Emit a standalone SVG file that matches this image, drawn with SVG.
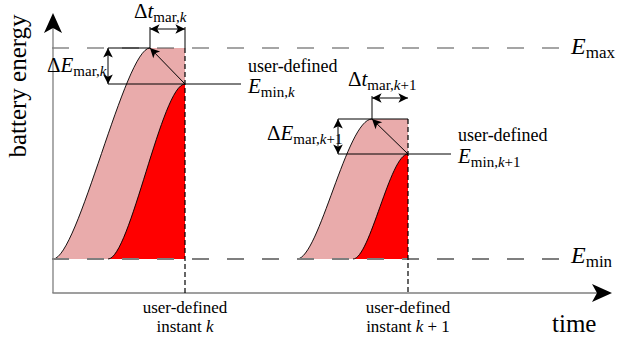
<svg xmlns="http://www.w3.org/2000/svg" width="626" height="341" viewBox="0 0 626 341">
  <style>
    text { font-family: "Liberation Serif", "Times New Roman", serif; fill: #000; }
    .lbl { font-size: 18px; }
    .low { font-size: 17px; }
    .big { font-size: 25px; }
    .m { font-size: 21px; }
    .e { font-size: 24px; }
    .it { font-style: italic; }
    .sub { font-size: 15px; }
    .esub { font-size: 17px; }
    .axis { stroke: #7f7f7f; stroke-width: 1.3; fill: none; }
    .head { fill: #000; stroke: none; }
    .emax { stroke: #4d4d4d; stroke-width: 1.1; stroke-dasharray: 17 18; fill: none; }
    .emin { stroke: #7f7f7f; stroke-width: 1.8; stroke-dasharray: 17 18; fill: none; }
    .pink { fill: #e9abab; stroke: none; }
    .red { fill: #ff0000; stroke: none; }
    .edge { stroke: #000; stroke-width: 0.9; fill: none; }
    .ln { stroke: #000; stroke-width: 1; fill: none; }
    .inst { stroke: #000; stroke-width: 1.2; stroke-dasharray: 5 3; fill: none; }
    .arr { stroke: #000; stroke-width: 1; fill: none; marker-end: url(#tip); }
    .dbl { stroke: #000; stroke-width: 1; fill: none; marker-start: url(#tip); marker-end: url(#tip); }
  </style>
  <defs>
    <marker id="tip" markerUnits="userSpaceOnUse" markerWidth="12" markerHeight="12" viewBox="-9 -5 10 10" refX="0" refY="0" orient="auto-start-reverse">
      <path d="M0,0 L-8,-4 L-6,0 L-8,4 z" fill="#000"/>
    </marker>
  </defs>

  <!-- pulse at instant k -->
  <g id="pulse-k">
    <path class="pink" d="M53,259 C78,259 125,48 150,48 L185,48 L185,259 Z"/>
    <path class="edge" d="M53,259 C78,259 125,48 150,48"/>
    <path class="red" d="M108,259 C130,259 162,84 185,84 L185,259 Z"/>
    <path class="edge" d="M108,259 C130,259 162,84 185,84"/>
  </g>

  <!-- pulse at instant k+1 -->
  <g id="pulse-k1">
    <path class="pink" d="M297,259 C319,259 347,119 372,119 L408,119 L408,259 Z"/>
    <path class="edge" d="M297,259 C319,259 347,119 372,119"/>
    <path class="red" d="M353,259 C370,259 390,154 408,154 L408,259 Z"/>
    <path class="edge" d="M353,259 C370,259 390,154 408,154"/>
  </g>

  <!-- energy bounds -->
  <g id="bounds">
    <line class="emax" x1="52" y1="48" x2="560" y2="48"/>
    <line class="emin" x1="52" y1="259" x2="560" y2="259"/>
    <text x="571" y="54" class="e"><tspan class="it">E</tspan><tspan class="esub" dy="4">max</tspan></text>
    <text x="571" y="263" class="e"><tspan class="it">E</tspan><tspan class="esub" dy="4">min</tspan></text>
  </g>

  <!-- axes -->
  <g id="axes">
    <line class="axis" x1="53" y1="293" x2="53" y2="28"/>
    <line class="axis" x1="52.4" y1="293" x2="598" y2="293"/>
    <path class="head" d="M53,13 L62,33 L53,28 L44,33 Z"/>
    <path class="head" d="M612,293 L592,302 L597,293 L592,284 Z"/>
    <text class="big" transform="translate(26,86) rotate(-90)" text-anchor="middle">battery energy</text>
    <text class="big" x="552" y="332">time</text>
  </g>

  <!-- markers, brackets and guide lines -->
  <g id="connectors">
    <!-- instant k -->
    <line class="inst" x1="185" y1="48" x2="185" y2="293"/>
    <line class="ln" x1="185" y1="27" x2="185" y2="48"/>
    <line class="ln" x1="150" y1="27" x2="150" y2="48"/>
    <line class="dbl" x1="150" y1="29" x2="185" y2="29"/>
    <line class="ln" x1="108" y1="48" x2="150" y2="48"/>
    <line class="ln" x1="108" y1="84" x2="241" y2="84"/>
    <line class="dbl" x1="108" y1="48" x2="108" y2="84"/>
    <line class="arr" x1="185" y1="84" x2="150" y2="48"/>
    <!-- instant k+1 -->
    <line class="inst" x1="408" y1="119" x2="408" y2="293"/>
    <line class="ln" x1="372" y1="96" x2="372" y2="119"/>
    <line class="dbl" x1="372" y1="98" x2="408" y2="98"/>
    <line class="ln" x1="338" y1="119" x2="408" y2="119"/>
    <line class="ln" x1="338" y1="154" x2="451" y2="154"/>
    <line class="dbl" x1="338" y1="119" x2="338" y2="154"/>
    <line class="arr" x1="408" y1="154" x2="372" y2="119"/>
  </g>

  <!-- labels, instant k -->
  <g id="labels-k">
    <text x="134" y="18" class="m">Δ<tspan class="it">t</tspan><tspan class="sub" dy="4">mar,</tspan><tspan class="sub it">k</tspan></text>
    <text x="47" y="72" class="m">Δ<tspan class="it">E</tspan><tspan class="sub" dy="4">mar,</tspan><tspan class="sub it">k</tspan></text>
    <text x="248" y="72" class="lbl">user-defined</text>
    <text x="248" y="93" class="m"><tspan class="it">E</tspan><tspan class="sub" dy="4">min,</tspan><tspan class="sub it">k</tspan></text>
    <text x="185" y="313" class="low" text-anchor="middle">user-defined</text>
    <text x="185" y="332" class="low" text-anchor="middle">instant <tspan class="it">k</tspan></text>
  </g>

  <!-- labels, instant k+1 -->
  <g id="labels-k1">
    <text x="348" y="86" class="m">Δ<tspan class="it">t</tspan><tspan class="sub" dy="4">mar,</tspan><tspan class="sub it">k</tspan><tspan class="sub">+1</tspan></text>
    <text x="267" y="140" class="m">Δ<tspan class="it">E</tspan><tspan class="sub" dy="4">mar,</tspan><tspan class="sub it">k</tspan><tspan class="sub">+1</tspan></text>
    <text x="458" y="141" class="lbl">user-defined</text>
    <text x="458" y="163" class="m"><tspan class="it">E</tspan><tspan class="sub" dy="4">min,</tspan><tspan class="sub it">k</tspan><tspan class="sub">+1</tspan></text>
    <text x="408" y="313" class="low" text-anchor="middle">user-defined</text>
    <text x="408" y="332" class="low" text-anchor="middle">instant <tspan class="it">k</tspan> + 1</text>
  </g>
</svg>
